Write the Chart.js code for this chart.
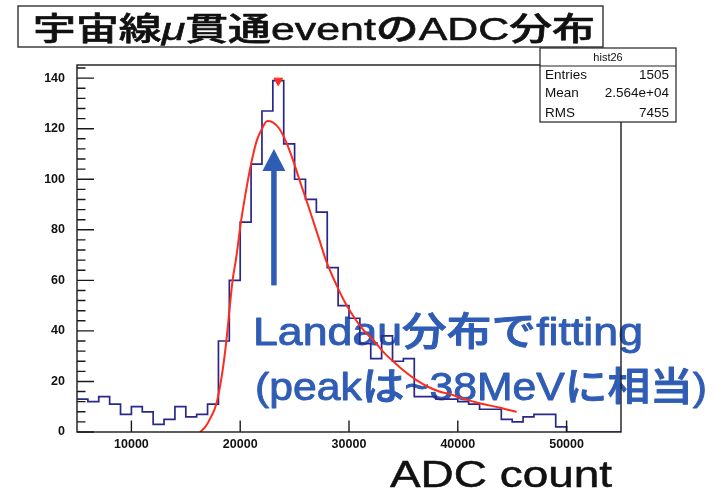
<!DOCTYPE html>
<html><head><meta charset="utf-8">
<script src="https://cdn.jsdelivr.net/npm/chart.js@4"></script>
<style>html,body{margin:0;padding:0;background:#fff;}canvas{display:block;}</style>
</head><body>
<canvas id="c" width="715" height="501"></canvas>
<script>
// ---- data ----
const binLow = [5000,6000,7000,8000,9000,10000,11000,12000,13000,14000,
  15000,16000,17000,18000,19000,20000,21000,22000,23000,24000,
  25000,26000,27000,28000,29000,30000,31000,32000,33000,34000,
  35000,36000,37000,38000,39000,40000,41000,42000,43000,44000,
  45000,46000,47000,48000,49000,50000,51000,52000,53000,54000];
const counts = [13,12,14,11,7,10,8,3,5,10,
  6,7,11,36,60,83,106,127,139,114,
  100,92,87,65,50,45,35,29,38,28,
  29,14,14,13,13,12,11,9,9,5,
  4,6,7,7,2,0,0,0,0,0];
const histMax = 55000;
const fitX = [16300,16800,17200,17800,18300,18700,19300,19600,20100,20600,21000,21500,22000,22500,23000,23600,24200,24900,25500,26100,26700,27300,27900,28800,29700,30600,31300,32300,33300,34300,35100,36200,37200,38300,39300,40200,42000,43900,45400];
const fitY = [0,2,5,11,22,35,60,68,84,97,106,115,120,123,122.5,120,115,107,99,91.5,83.6,75.7,67.7,58.6,50.7,44.5,40.5,36,31,27,24,20.5,18,16,15,13.6,11.4,9.6,7.9];
const xTickValues = [10000,20000,30000,40000,50000];
const yTickValues = [0,20,40,60,80,100,120,140];
const titleRuns = ['宇宙線','μ','貫通eventのADC分布'];
const xAxisLabel = 'ADC count';
const noteLines = ['Landau分布でfitting','(peakは~38MeVに相当)'];
const statName = 'hist26';
const statLabels = ['Entries','Mean','RMS'];
const statValues = ['1505','2.564e+04','7455'];
const arrowX = 23100, arrowFrom = 58, arrowTo = 112;

// ---- styling ----
const LAT = "'Liberation Sans', Arial, sans-serif";
const MIX = "'Liberation Sans', 'Noto Sans CJK JP', sans-serif";
const BLUE = '#2f5cb4';
const HIST = '#28288a';
const FIT = '#ff2b1c';

const histData = binLow.map((x,i)=>({x, y: counts[i]}));
histData.push({x: histMax, y: counts[counts.length-1]});
const fitData = fitX.map((x,i)=>({x, y: fitY[i]}));
let pk = 0; counts.forEach((c,i)=>{ if (c > counts[pk]) pk = i; });
const peakData = [{x: (binLow[pk] + binLow[pk+1]) / 2, y: counts[pk]}];

function fitText(ctx, runs, left, right, baseline, color, stroke) {
  ctx.save();
  let w = 0;
  runs.forEach(r => { ctx.font = r.font; w += ctx.measureText(r.t).width; });
  const sx = (right - left) / w;
  ctx.translate(left, baseline);
  ctx.scale(sx, 1);
  ctx.fillStyle = color;
  ctx.strokeStyle = color;
  ctx.lineWidth = stroke || 0;
  ctx.lineJoin = 'round';
  ctx.textBaseline = 'alphabetic';
  ctx.textAlign = 'left';
  let cx = 0;
  runs.forEach(r => {
    ctx.font = r.font;
    ctx.fillText(r.t, cx, 0);
    if (stroke) ctx.strokeText(r.t, cx, 0);
    cx += ctx.measureText(r.t).width;
  });
  ctx.restore();
}

const deco = {
  id: 'deco',
  beforeDatasetsDraw(chart) {
    const {ctx, scales:{x, y}} = chart;
    fitText(ctx, [{t: noteLines[0], font: '500 39px ' + MIX}], 253, 643, 345, BLUE, 0.9);
    fitText(ctx, [{t: noteLines[1], font: '500 39px ' + MIX}], 255, 707, 400, BLUE, 0.9);
    const ax = x.getPixelForValue(arrowX);
    const yb = y.getPixelForValue(arrowFrom);
    const yt = y.getPixelForValue(arrowTo);
    const headL = 22, headW = 23, shaft = 5.5;
    ctx.save();
    ctx.fillStyle = BLUE;
    ctx.fillRect(ax - shaft/2, yt + headL - 2, shaft, yb - yt - headL + 2);
    ctx.beginPath();
    ctx.moveTo(ax, yt);
    ctx.lineTo(ax + headW/2, yt + headL);
    ctx.lineTo(ax - headW/2, yt + headL);
    ctx.closePath();
    ctx.fill();
    ctx.restore();
  },
  afterDatasetsDraw(chart) {
    const {ctx, chartArea: a, scales:{x, y}} = chart;
    ctx.save();
    ctx.strokeStyle = '#1a1a1a';
    ctx.lineWidth = 1.4;
    ctx.strokeRect(a.left, a.top, a.right - a.left, a.bottom - a.top);
    ctx.beginPath();
    for (let i = 0; i < yTickValues.length; i++) {
      const py = y.getPixelForValue(yTickValues[i]);
      ctx.moveTo(a.left, py); ctx.lineTo(a.left + 17, py);
      const nxt = i + 1 < yTickValues.length ? yTickValues[i+1] : y.max;
      const step = (yTickValues[1] - yTickValues[0]) / 5;
      for (let v = yTickValues[i] + step; v < nxt - 1e-6 && v <= y.max; v += step) {
        const pm = y.getPixelForValue(v);
        ctx.moveTo(a.left, pm); ctx.lineTo(a.left + 8.5, pm);
      }
    }
    xTickValues.forEach(v => {
      const px = x.getPixelForValue(v);
      ctx.moveTo(px, a.bottom); ctx.lineTo(px, a.bottom - 11.5);
    });
    ctx.stroke();
    ctx.restore();
  },
  afterDraw(chart) {
    const {ctx} = chart;
    ctx.save();
    ctx.fillStyle = '#fff';
    ctx.fillRect(18, 6, 585, 41);
    ctx.strokeStyle = '#222';
    ctx.lineWidth = 1.3;
    ctx.strokeRect(18, 6, 585, 41);
    fitText(ctx, [
      {t: titleRuns[0], font: '500 32px ' + MIX},
      {t: titleRuns[1], font: 'italic 32px ' + LAT},
      {t: titleRuns[2], font: '500 32px ' + MIX}
    ], 33, 595, 40, '#111', 0.6);
    ctx.fillStyle = '#fff';
    ctx.fillRect(540, 48, 136, 74);
    ctx.strokeStyle = '#222';
    ctx.lineWidth = 1.2;
    ctx.strokeRect(540, 48, 136, 74);
    ctx.beginPath(); ctx.moveTo(540, 66); ctx.lineTo(676, 66); ctx.stroke();
    ctx.fillStyle = '#111';
    ctx.font = '11px ' + LAT;
    ctx.textAlign = 'center'; ctx.textBaseline = 'middle';
    ctx.fillText(statName, 608, 58);
    const rowsY = [75, 93.5, 113];
    ctx.font = '13.5px ' + LAT;
    statLabels.forEach((s, i) => {
      ctx.textAlign = 'left'; ctx.fillText(s, 545, rowsY[i]);
      ctx.textAlign = 'right'; ctx.fillText(statValues[i], 669, rowsY[i]);
    });
    fitText(ctx, [{t: xAxisLabel, font: '37px ' + LAT}], 390, 612, 487, '#111', 0.5);
    ctx.restore();
  }
};

new Chart(document.getElementById('c'), {
  type: 'line',
  data: {
    datasets: [
      {data: histData, borderColor: HIST, borderWidth: 1.7, stepped: 'before', pointRadius: 0, fill: false, order: 3},
      {data: fitData, borderColor: FIT, borderWidth: 2, cubicInterpolationMode: 'monotone', pointRadius: 0, fill: false, order: 2},
      {data: peakData, showLine: false, pointStyle: 'triangle', rotation: 180, pointRadius: 5, backgroundColor: FIT, borderColor: FIT, borderWidth: 1, order: 1}
    ]
  },
  options: {
    responsive: false,
    animation: false,
    devicePixelRatio: 1,
    layout: {padding: {left: 0, top: 65, right: 94, bottom: 39}},
    plugins: {legend: {display: false}, tooltip: {enabled: false}},
    scales: {
      x: {
        type: 'linear', min: 5000, max: 55000,
        grid: {display: false}, border: {display: false},
        afterBuildTicks: s => { s.ticks = xTickValues.map(v => ({value: v})); },
        afterFit: s => { s.height = 30; },
        ticks: {autoSkip: false, maxRotation: 0, padding: -3, color: '#111',
          font: {family: LAT, size: 12.5, weight: 'bold'}, callback: v => String(v)}
      },
      y: {
        type: 'linear', min: 0, max: 145.2,
        grid: {display: false}, border: {display: false},
        afterBuildTicks: s => { s.ticks = yTickValues.map(v => ({value: v})); },
        afterFit: s => { s.width = 77; },
        ticks: {padding: 4, color: '#111', font: {family: LAT, size: 12.5, weight: 'bold'}, callback: v => String(v)}
      }
    }
  },
  plugins: [deco]
});
</script>
</body></html>
